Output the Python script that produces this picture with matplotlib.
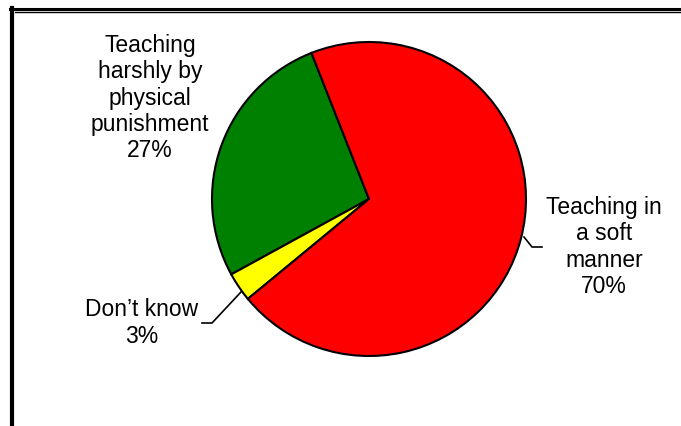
import matplotlib
matplotlib.use("Agg")
import matplotlib.pyplot as plt
from matplotlib.lines import Line2D

categories = ["Teaching\nharshly by\nphysical\npunishment", "Don\u2019t know", "Teaching in\na soft\nmanner"]
shares = [27, 3, 70]
colors = ["#008000", "#FFFF00", "#FF0000"]

W, H = 681, 426
plt.rcParams["font.family"] = ["Liberation Sans", "DejaVu Sans"]

fig = plt.figure(figsize=(W / 100, H / 100), dpi=100)
ax = fig.add_axes([0, 0, 1, 1])

# pie centre and radius in pixels (y measured from the top)
cx, cy, r = 369, 199, 157
ax.pie(shares, colors=colors, startangle=111.5, counterclock=True,
       center=(cx, H - cy), radius=r,
       wedgeprops=dict(edgecolor="black", linewidth=1.5))
ax.set_xlim(0, W)
ax.set_ylim(0, H)
ax.set_aspect("equal")
ax.axis("off")

fs = 16.5
ls = 1.18
labels = [f"{c}\n{s}%" for c, s in zip(categories, shares)]
ax.text(150, H - 98, labels[0], ha="center", va="center", fontsize=fs, linespacing=ls)
ax.text(142, H - 323, labels[1], ha="center", va="center", fontsize=fs, linespacing=ls)
ax.text(604, H - 247, labels[2], ha="center", va="center", fontsize=fs, linespacing=ls)

# leader lines
ax.plot([202, 212, 241], [H - 323, H - 323, H - 292], color="black", lw=1.2)
ax.plot([542, 532, 524], [H - 247, H - 247, H - 237], color="black", lw=1.2)

# frame lines
ax.add_line(Line2D([10, W], [H - 8.5, H - 8.5], color="black", lw=2.2, clip_on=False))
ax.add_line(Line2D([15, W], [H - 12, H - 12], color="black", lw=1.0, clip_on=False))
ax.add_line(Line2D([11.5, 11.5], [H - 8, 0], color="black", lw=3.0, clip_on=False))

fig.savefig("out.png", dpi=100)
